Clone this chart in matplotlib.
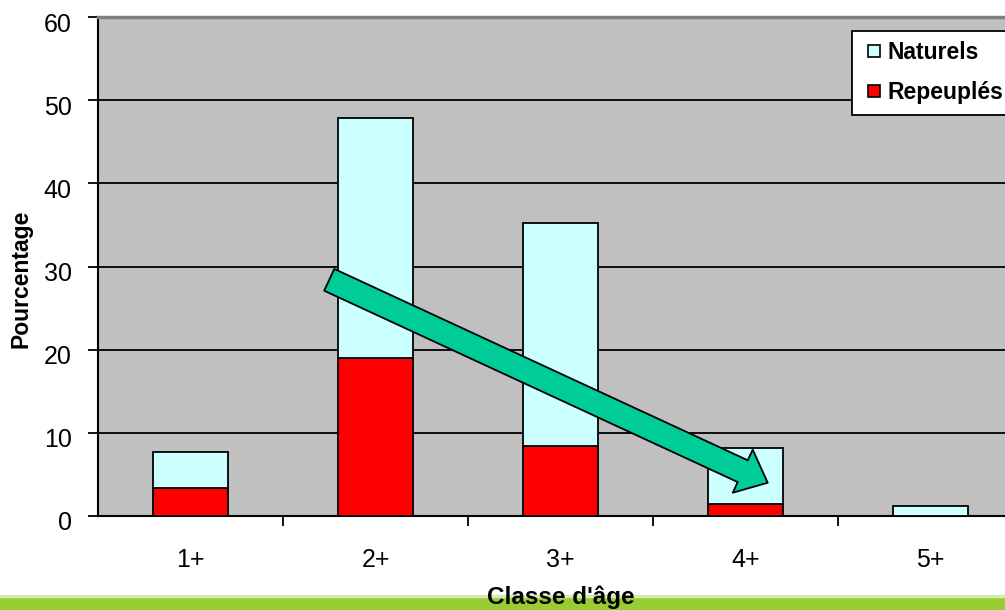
"""Stacked age-class bars (Naturels / Repeuplés) with a trend arrow."""

import matplotlib

matplotlib.use("Agg")
import matplotlib.pyplot as plt
from matplotlib.lines import Line2D
from matplotlib.patches import Rectangle
from matplotlib.transforms import ScaledTranslation

classes = ["1+", "2+", "3+", "4+", "5+"]
repeuples = [3.4, 19.0, 8.4, 1.4, 0.0]
naturels = [4.3, 28.9, 26.8, 6.8, 1.2]
y_ticks = [0, 10, 20, 30, 40, 50, 60]

RED, CYAN, GREEN = "#FF0000", "#CCFFFF", "#00CC99"

plt.rcParams["font.family"] = ["Liberation Sans", "DejaVu Sans"]

W, H = 1005, 610
fig = plt.figure(figsize=(W / 100, H / 100), dpi=100)
# plot area runs past the right edge of the picture (cropped original)
ax = fig.add_axes([98 / W, (H - 516) / H, 925 / W, (516 - 17) / H])
ax.set_zorder(2)
ax.set_facecolor("#C0C0C0")

x = range(len(classes))
ax.bar(x, repeuples, width=0.41, color=RED, edgecolor="black", lw=1.3, zorder=3)
ax.bar(x, naturels, width=0.41, bottom=repeuples, color=CYAN,
       edgecolor="black", lw=1.3, zorder=3)

ax.set_xlim(-0.5, len(classes) - 0.5)
ax.set_ylim(0, 60)
ax.set_yticks(y_ticks)
ax.yaxis.grid(True, color="black", lw=1.3, zorder=1)
ax.tick_params(axis="y", labelsize=18, length=7, width=1.3, pad=12)
# excel draws the value labels a touch below their gridline
for lab in ax.get_yticklabels():
    lab.set_transform(lab.get_transform() + ScaledTranslation(0, -0.05, fig.dpi_scale_trans))

ax.set_xticks([i + 0.5 for i in range(len(classes) - 1)])
ax.set_xticklabels([])
ax.set_xticks(list(x), minor=True)
ax.set_xticklabels(classes, minor=True)
ax.tick_params(axis="x", which="major", length=7, width=1.3)
ax.tick_params(axis="x", which="minor", length=0, labelsize=18, pad=23)

for side in ("left", "bottom"):
    ax.spines[side].set_linewidth(1.5)
ax.spines["top"].set_color("#808080")
ax.spines["top"].set_linewidth(2.5)
ax.spines["right"].set_visible(False)

ax.set_xlabel("Classe d'âge", fontsize=17.5, fontweight="bold", labelpad=10)
ax.set_ylabel("Pourcentage", fontsize=16.5, fontweight="bold")
ax.yaxis.set_label_coords(-0.0703, 0.475)

# trend arrow
ax.annotate("", xy=(3.12, 4.0), xytext=(0.75, 28.4),
            arrowprops=dict(arrowstyle="simple,head_length=0.55,head_width=0.95,tail_width=0.48",
                            mutation_scale=36, fc=GREEN, ec="black", lw=1.3,
                            shrinkA=0, shrinkB=0), zorder=5)

handles = [
    Line2D([], [], ls="none", marker="s", ms=8.6, mfc=CYAN, mec="black", mew=1.2),
    Line2D([], [], ls="none", marker="s", ms=8.6, mfc=RED, mec="black", mew=1.2),
]
leg = fig.legend(handles, ["Naturels", "Repeuplés"], loc="upper left",
                 bbox_to_anchor=(852 / W, 1 - 31 / H),
                 prop=dict(size=16.5, weight="bold"), frameon=True, fancybox=False,
                 edgecolor="black", facecolor="white", framealpha=1,
                 handlelength=1.0, handletextpad=0.1, labelspacing=0.75,
                 borderpad=0.45, borderaxespad=0)
leg.set_zorder(10)
leg.get_frame().set_linewidth(1.3)

# green band at the bottom
fig.patches.append(Rectangle((0, 0), 1, 13 / H, transform=fig.transFigure,
                             color="#99CC33", zorder=-1))
fig.patches.append(Rectangle((0, 13 / H), 1, 2 / H, transform=fig.transFigure,
                             color="#D6EBB0", zorder=-1))

fig.savefig("out.png", dpi=100)
